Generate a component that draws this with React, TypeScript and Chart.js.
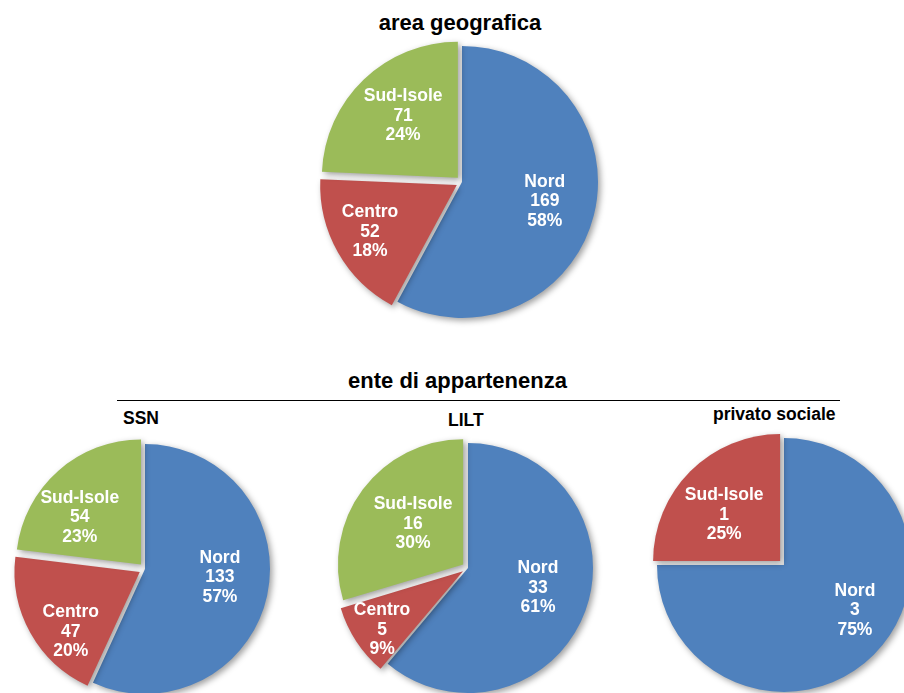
import React, { useEffect, useRef } from "react";
import { Chart, registerables } from "chart.js";

Chart.register(...registerables);

// ---- data ----
const categories = ["Nord", "Centro", "Sud-Isole"];
const geoValues = [169, 52, 71];
const ssnValues = [133, 47, 54];
const liltValues = [33, 5, 16];
const privatoCategories = ["Nord", "Sud-Isole"];
const privatoValues = [3, 1];

const mainTitle = "area geografica";
const groupTitle = "ente di appartenenza";
const subTitles = ["SSN", "LILT", "privato sociale"];

// ---- style ----
const BLUE = "#4F81BD";
const RED = "#C0504D";
const GREEN = "#9BBB59";
const FONT = '"Liberation Sans", Arial, Helvetica, sans-serif';
const LABEL_SIZE = 17.5;
const LINE_H = 19.5;

type PieSpec = {
  labels: string[];
  values: number[];
  colors: string[];
  offsets: number[];
  factors: number[]; // label distance as fraction of radius
  shifts: number[]; // label angular nudge in degrees
  cx: number;
  cy: number;
  r: number;
};

const pies: PieSpec[] = [
  { labels: categories, values: geoValues, colors: [BLUE, RED, GREEN], offsets: [0, 24, 24], factors: [0.625, 0.77, 0.65], shifts: [-1, 1, 2], cx: 462, cy: 182, r: 136 },
  { labels: categories, values: ssnValues, colors: [BLUE, RED, GREEN], offsets: [0, 24, 24], factors: [0.603, 0.778, 0.666], shifts: [-6, -11, -10], cx: 145, cy: 569, r: 125 },
  { labels: categories, values: liltValues, colors: [BLUE, RED, GREEN], offsets: [0, 24, 24], factors: [0.582, 0.848, 0.563], shifts: [-4, -2.5, 2], cx: 468, cy: 568, r: 125 },
  { labels: privatoCategories, values: privatoValues, colors: [BLUE, RED], offsets: [0, 22], factors: [0.662, 0.615], shifts: [-12.5, -5], cx: 784, cy: 565, r: 127 },
];

const shadowPlugin = {
  id: "sliceShadow",
  beforeDatasetsDraw(chart: any) {
    const ctx = chart.ctx;
    ctx.save();
    ctx.shadowColor = "rgba(0,0,0,0.38)";
    ctx.shadowBlur = 6;
    ctx.shadowOffsetX = 2.5;
    ctx.shadowOffsetY = 2.5;
  },
  afterDatasetsDraw(chart: any) {
    chart.ctx.restore();
  },
};

const labelPlugin = {
  id: "sliceLabels",
  afterDatasetsDraw(chart: any, _args: any, opts: any) {
    const ctx = chart.ctx;
    const meta = chart.getDatasetMeta(0);
    const values = chart.data.datasets[0].data as number[];
    const labels = chart.data.labels as string[];
    const total = values.reduce((a, b) => a + b, 0);
    const factors: number[] = opts.factors || [];
    const shifts: number[] = opts.shifts || [];
    ctx.save();
    ctx.shadowColor = "transparent";
    ctx.font = `bold ${LABEL_SIZE}px ${FONT}`;
    ctx.fillStyle = "#ffffff";
    ctx.textAlign = "center";
    ctx.textBaseline = "middle";
    meta.data.forEach((arc: any, i: number) => {
      const p = arc.getProps(["x", "y", "startAngle", "endAngle", "outerRadius"], true);
      const mid = (p.startAngle + p.endAngle) / 2 + ((shifts[i] ?? 0) * Math.PI) / 180;
      const d = p.outerRadius * (factors[i] ?? 0.6);
      const x = p.x + Math.cos(mid) * d;
      const y = p.y + Math.sin(mid) * d;
      const lines = [labels[i], String(values[i]), Math.round((values[i] / total) * 100) + "%"];
      lines.forEach((t, j) => ctx.fillText(t, x, y + (j - 1) * LINE_H));
    });
    ctx.restore();
  },
};

function Pie({ spec }: { spec: PieSpec }) {
  const ref = useRef<HTMLCanvasElement>(null);
  const size = 2 * (spec.r + 18);
  useEffect(() => {
    if (!ref.current) return;
    const chart = new Chart(ref.current, {
      type: "pie",
      data: {
        labels: spec.labels,
        datasets: [
          {
            data: spec.values,
            backgroundColor: spec.colors,
            borderWidth: 0,
            offset: spec.offsets,
          } as any,
        ],
      },
      options: {
        responsive: false,
        animation: false,
        events: [],
        radius: spec.r,
        layout: { padding: 0 },
        plugins: {
          legend: { display: false },
          tooltip: { enabled: false },
          title: { display: false },
          sliceLabels: { factors: spec.factors, shifts: spec.shifts },
        } as any,
      } as any,
      plugins: [shadowPlugin, labelPlugin],
    });
    return () => chart.destroy();
  }, [spec]);
  return (
    <canvas
      ref={ref}
      width={size}
      height={size}
      style={{ position: "absolute", left: spec.cx - size / 2, top: spec.cy - size / 2, width: size, height: size }}
    />
  );
}

function Text({ text, size, left, baseline, align }: { text: string; size: number; left: number; baseline: number; align: "left" | "center" }) {
  const top = baseline - ((size - 1.117 * size) / 2 + 0.905 * size);
  const style: React.CSSProperties = {
    position: "absolute",
    top,
    font: `bold ${size}px ${FONT}`,
    lineHeight: `${size}px`,
    whiteSpace: "nowrap",
    color: "#000",
  };
  if (align === "center") {
    style.left = left - 300;
    style.width = 600;
    style.textAlign = "center";
  } else {
    style.left = left;
  }
  return <div style={style}>{text}</div>;
}

export default function App() {
  return (
    <div style={{ position: "absolute", left: 0, top: 0, width: 904, height: 693, overflow: "hidden", background: "#fff" }}>
      <Text text={mainTitle} size={22} left={460} baseline={31} align="center" />
      <Text text={groupTitle} size={22} left={457.5} baseline={389} align="center" />
      <div style={{ position: "absolute", left: 117, top: 400, width: 723, height: 1, background: "#000" }} />
      <Text text={subTitles[0]} size={17.5} left={123} baseline={425} align="left" />
      <Text text={subTitles[1]} size={17.5} left={448} baseline={427} align="left" />
      <Text text={subTitles[2]} size={17.5} left={713} baseline={421} align="left" />
      {pies.map((p, i) => (
        <Pie key={i} spec={p} />
      ))}
    </div>
  );
}
